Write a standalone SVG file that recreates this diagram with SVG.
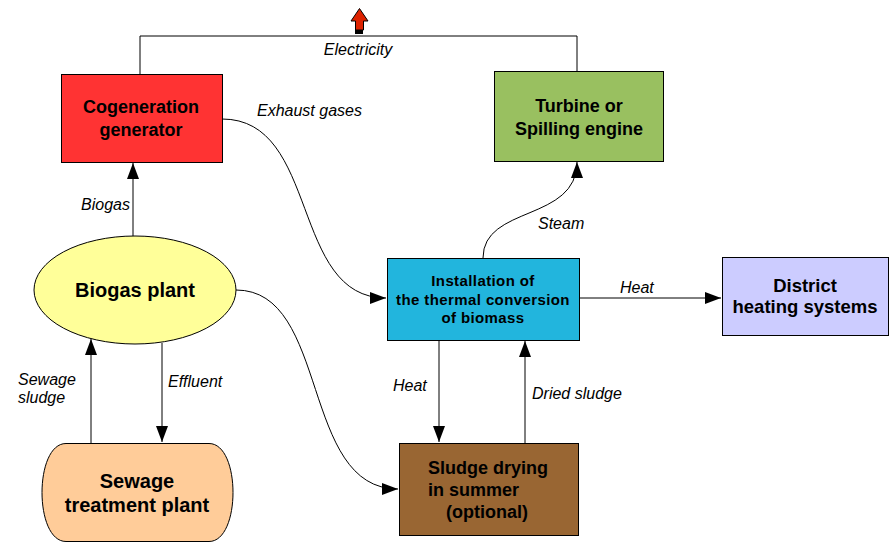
<svg xmlns="http://www.w3.org/2000/svg" width="895" height="552" viewBox="0 0 895 552">
<defs>
<style>
.box{stroke:#000;stroke-width:1}
.t{font-family:"Liberation Sans",Arial,sans-serif;font-weight:bold;font-size:18px;fill:#000;text-anchor:middle}
.tl{font-family:"Liberation Sans",Arial,sans-serif;font-weight:bold;font-size:18px;fill:#000;text-anchor:start}
.tb{font-family:"Liberation Sans",Arial,sans-serif;font-weight:bold;font-size:20px;fill:#000;text-anchor:middle}
.ts{font-family:"Liberation Sans",Arial,sans-serif;font-weight:bold;font-size:15px;fill:#000;text-anchor:middle;letter-spacing:0.4px}
.lbl{font-family:"Liberation Sans",Arial,sans-serif;font-style:italic;font-size:16px;fill:#000}
.c{fill:none;stroke:#000;stroke-width:1}
</style>
<marker id="ah" viewBox="0 0 16 12" refX="16" refY="6" markerWidth="16" markerHeight="12" markerUnits="userSpaceOnUse" orient="auto">
<path d="M0,0 L16,6 L0,12 Z" fill="#000"/>
</marker>
</defs>
<rect width="895" height="552" fill="#fff"/>
<g id="connectors">
<path class="c" d="M140,74 V36 H577 V71"/>
<path class="c" d="M133,236 V163" marker-end="url(#ah)"/>
<path class="c" d="M222,119 C320,119 290,298 386,298" marker-end="url(#ah)"/>
<path class="c" d="M483,258 C483,205 577,222 577,162" marker-end="url(#ah)"/>
<path class="c" d="M579,298 H721" marker-end="url(#ah)"/>
<path class="c" d="M236,290 C330,290 300,489 398,489" marker-end="url(#ah)"/>
<path class="c" d="M439,340 V442" marker-end="url(#ah)"/>
<path class="c" d="M525,443 V341" marker-end="url(#ah)"/>
<path class="c" d="M91,443 V339" marker-end="url(#ah)"/>
<path class="c" d="M162,343 V442" marker-end="url(#ah)"/>
<rect x="355" y="30" width="8" height="4" fill="#000"/>
<path d="M355.500,30 V21 H351 L359.500,8.500 L368,21 H363.500 V30 Z" fill="#dd2200" stroke="#000" stroke-width="1"/>
<text class="lbl" x="358" y="55" text-anchor="middle">Electricity</text>
<text class="lbl" x="257" y="116">Exhaust gases</text>
<text class="lbl" x="81" y="210">Biogas</text>
<text class="lbl" x="538" y="229">Steam</text>
<text class="lbl" x="620" y="293">Heat</text>
<text class="lbl" x="18" y="385">Sewage</text>
<text class="lbl" x="18" y="403">sludge</text>
<text class="lbl" x="168" y="387">Effluent</text>
<text class="lbl" x="393" y="391">Heat</text>
<text class="lbl" x="532" y="399">Dried sludge</text>
</g>
<g id="cogeneration">
<rect class="box" x="61.500" y="74.500" width="161" height="88" fill="#ff3333"/>
<text class="t" x="141" y="113">Cogeneration</text>
<text class="t" x="141" y="136">generator</text>
</g>
<g id="turbine">
<rect class="box" x="494.500" y="71.500" width="169" height="90" fill="#99c060"/>
<text class="t" x="579" y="112">Turbine or</text>
<text class="t" x="579" y="135">Spilling engine</text>
</g>
<g id="biogas">
<ellipse class="box" cx="135" cy="290" rx="101" ry="54" fill="#ffff99"/>
<text class="tb" x="135" y="297">Biogas plant</text>
</g>
<g id="sewage">
<path class="box" d="M66,443.500 H209 C241,443.500 241,541.500 209,541.500 H66 C34,541.500 34,443.500 66,443.500 Z" fill="#ffcc99"/>
<text class="tb" x="137" y="488">Sewage</text>
<text class="tb" x="137" y="512">treatment plant</text>
</g>
<g id="installation">
<rect class="box" x="387.500" y="258.500" width="192" height="82" fill="#22b5dd"/>
<text class="ts" x="483" y="286">Installation of</text>
<text class="ts" x="483" y="305">the thermal conversion</text>
<text class="ts" x="483" y="323">of biomass</text>
</g>
<g id="district">
<rect class="box" x="722.500" y="257.500" width="166" height="78" fill="#ccccff"/>
<text class="t" x="805" y="292" style="font-size:18.5px">District</text>
<text class="t" x="805" y="313" style="font-size:18.5px">heating systems</text>
</g>
<g id="sludge">
<rect class="box" x="399.500" y="443.500" width="179" height="92" fill="#996633"/>
<text class="tl" x="428" y="474">Sludge drying</text>
<text class="tl" x="428" y="496">in summer</text>
<text class="tl" x="446" y="518">(optional)</text>
</g>
</svg>
